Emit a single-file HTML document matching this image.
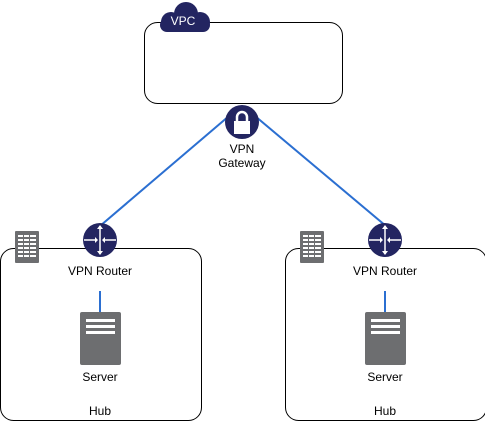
<!DOCTYPE html>
<html><head><style>body{margin:0;background:#fff}</style></head><body>
<svg width="485" height="422" xmlns="http://www.w3.org/2000/svg" font-family="Liberation Sans, sans-serif" font-size="12">
<rect x="144.5" y="22.5" width="198" height="81" rx="13" fill="#fff" stroke="#000"/>
<g fill="#232561">
<circle cx="171" cy="22" r="10"/><circle cx="186" cy="14" r="12"/><circle cx="200" cy="22" r="10"/>
<rect x="160" y="18" width="50" height="14" rx="7"/>
</g>
<text x="183" y="25" text-anchor="middle" fill="#fff" font-size="12">VPC</text>
<line x1="229" y1="116" x2="100" y2="226" stroke="#2b6fd1" stroke-width="2"/>
<line x1="255" y1="116" x2="386" y2="226" stroke="#2b6fd1" stroke-width="2"/>
<circle cx="242" cy="122" r="17" fill="#232561"/>
<rect x="234" y="121" width="16" height="13" fill="#fff"/>
<path d="M237 121v-4a5 5 0 0 1 10 0v4" fill="none" stroke="#fff" stroke-width="2.5"/>
<text x="242" y="153" text-anchor="middle">VPN</text>
<text x="242" y="167" text-anchor="middle">Gateway</text>
<g id="hub">
<rect x="0.5" y="248.5" width="201" height="172" rx="13" fill="#fff" stroke="#000"/>
<rect x="15" y="231" width="24" height="32" rx="1" fill="#6d6e70"/>
<g fill="#fff"><rect x="18" y="235" width="18" height="2"/><rect x="18" y="239" width="18" height="2"/><rect x="18" y="243" width="18" height="2"/><rect x="18" y="247" width="18" height="2"/><rect x="18" y="251" width="18" height="2"/><rect x="18" y="255" width="18" height="2"/></g>
<g fill="#6d6e70"><rect x="23" y="235" width="1" height="22"/><rect x="29" y="235" width="1" height="22"/></g>
<circle cx="100" cy="240" r="17" fill="#232561"/>
<g stroke="#fff" stroke-width="1.5" fill="#fff">
<line x1="100" y1="226" x2="100" y2="254"/><line x1="84" y1="240" x2="95" y2="240"/><line x1="105" y1="240" x2="116" y2="240"/>
<path d="M97 229l3-4 3 4z M97 251l3 4 3-4z M95 237l3 3-3 3z M105 237l-3 3 3 3z" stroke="none"/>
</g>
<text x="100" y="275" text-anchor="middle">VPN Router</text>
<line x1="100" y1="291" x2="100" y2="312" stroke="#2b6fd1" stroke-width="2"/>
<rect x="80" y="312" width="41" height="53" rx="2" fill="#6d6e70"/>
<g fill="#fff"><rect x="86" y="319" width="29" height="3"/><rect x="86" y="325" width="29" height="3"/><rect x="86" y="331" width="29" height="3"/></g>
<text x="100" y="381" text-anchor="middle">Server</text>
<text x="100" y="415" text-anchor="middle">Hub</text>
</g>
<use href="#hub" x="285"/>
</svg>
</body></html>
